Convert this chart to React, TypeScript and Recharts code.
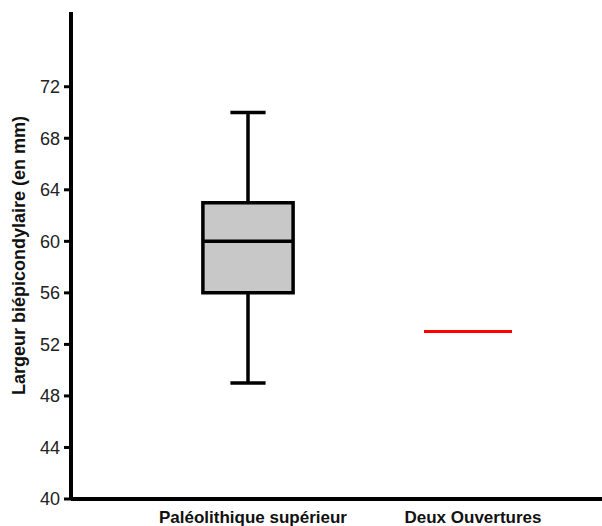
import React from "react";
import {
  ComposedChart,
  XAxis,
  YAxis,
  ReferenceArea,
  ReferenceLine,
} from "recharts";

const categories = ["Paléolithique supérieur", "Deux Ouvertures"];
const positions = [0, 1];
// box statistics for the first group
const boxMin = [49];
const boxQ1 = [56];
const boxMedian = [60];
const boxQ3 = [63];
const boxMax = [70];
// single value shown for the second group
const singleValues = [53];
const yTicks = [40, 44, 48, 52, 56, 60, 64, 68, 72];

const FONT = "'Liberation Sans', Arial, Helvetica, sans-serif";
const BOX_HALF = 0.205;
const CAP_HALF = 0.08;
const LINE_HALF = 0.2;

export default function App() {
  const data = positions.map((p, i) => ({ x: p, name: categories[i] }));
  return (
    <div style={{ position: "absolute", left: 0, top: 0, background: "#fff" }}>
      <ComposedChart
        width={602}
        height={526}
        data={data}
        margin={{ top: 12, right: 0, bottom: 0, left: 0 }}
      >
        <XAxis
          dataKey="x"
          type="number"
          domain={[-0.8045, 1.609]}
          ticks={positions}
          tickFormatter={(v: number) => categories[v]}
          tickLine={false}
          axisLine={{ stroke: "#000", strokeWidth: 4 }}
          tick={{ fill: "#111", fontSize: 17, fontWeight: "bold", fontFamily: FONT, dx: 5 }}
          tickMargin={6}
          height={27}
          allowDataOverflow
        />
        <YAxis
          type="number"
          domain={[40, 77.8]}
          ticks={yTicks}
          width={71}
          axisLine={{ stroke: "#000", strokeWidth: 4 }}
          tickLine={{ stroke: "#000", strokeWidth: 3 }}
          tickSize={7}
          tickMargin={4}
          tick={{ fill: "#222", fontSize: 18, fontFamily: FONT }}
          allowDataOverflow
          label={{
            value: "Largeur biépicondylaire (en mm)",
            angle: -90,
            position: "insideLeft",
            offset: 19,
            style: { textAnchor: "middle", fontSize: 18, fontWeight: "bold", fontFamily: FONT, fill: "#111" },
          }}
        />
        {boxMin.map((v, i) => (
          <ReferenceLine
            key={`lw${i}`}
            segment={[{ x: positions[i], y: v }, { x: positions[i], y: boxQ1[i] }]}
            stroke="#000"
            strokeWidth={3.5}
            ifOverflow="visible"
          />
        ))}
        {boxMax.map((v, i) => (
          <ReferenceLine
            key={`uw${i}`}
            segment={[{ x: positions[i], y: boxQ3[i] }, { x: positions[i], y: v }]}
            stroke="#000"
            strokeWidth={3.5}
            ifOverflow="visible"
          />
        ))}
        {boxMin.map((v, i) => (
          <ReferenceLine
            key={`lc${i}`}
            segment={[{ x: positions[i] - CAP_HALF, y: v }, { x: positions[i] + CAP_HALF, y: v }]}
            stroke="#000"
            strokeWidth={3.5}
            ifOverflow="visible"
          />
        ))}
        {boxMax.map((v, i) => (
          <ReferenceLine
            key={`uc${i}`}
            segment={[{ x: positions[i] - CAP_HALF, y: v }, { x: positions[i] + CAP_HALF, y: v }]}
            stroke="#000"
            strokeWidth={3.5}
            ifOverflow="visible"
          />
        ))}
        {boxQ1.map((v, i) => (
          <ReferenceArea
            key={`box${i}`}
            x1={positions[i] - BOX_HALF}
            x2={positions[i] + BOX_HALF}
            y1={v}
            y2={boxQ3[i]}
            fill="#c8c8c8"
            fillOpacity={1}
            stroke="#000"
            strokeWidth={3.5}
            ifOverflow="visible"
          />
        ))}
        {boxMedian.map((v, i) => (
          <ReferenceLine
            key={`med${i}`}
            segment={[{ x: positions[i] - BOX_HALF, y: v }, { x: positions[i] + BOX_HALF, y: v }]}
            stroke="#000"
            strokeWidth={3.5}
            ifOverflow="visible"
          />
        ))}
        {singleValues.map((v, i) => (
          <ReferenceLine
            key={`sv${i}`}
            segment={[
              { x: positions[i + 1] - LINE_HALF, y: v },
              { x: positions[i + 1] + LINE_HALF, y: v },
            ]}
            stroke="#ff0000"
            strokeWidth={3}
            ifOverflow="visible"
          />
        ))}
      </ComposedChart>
    </div>
  );
}
